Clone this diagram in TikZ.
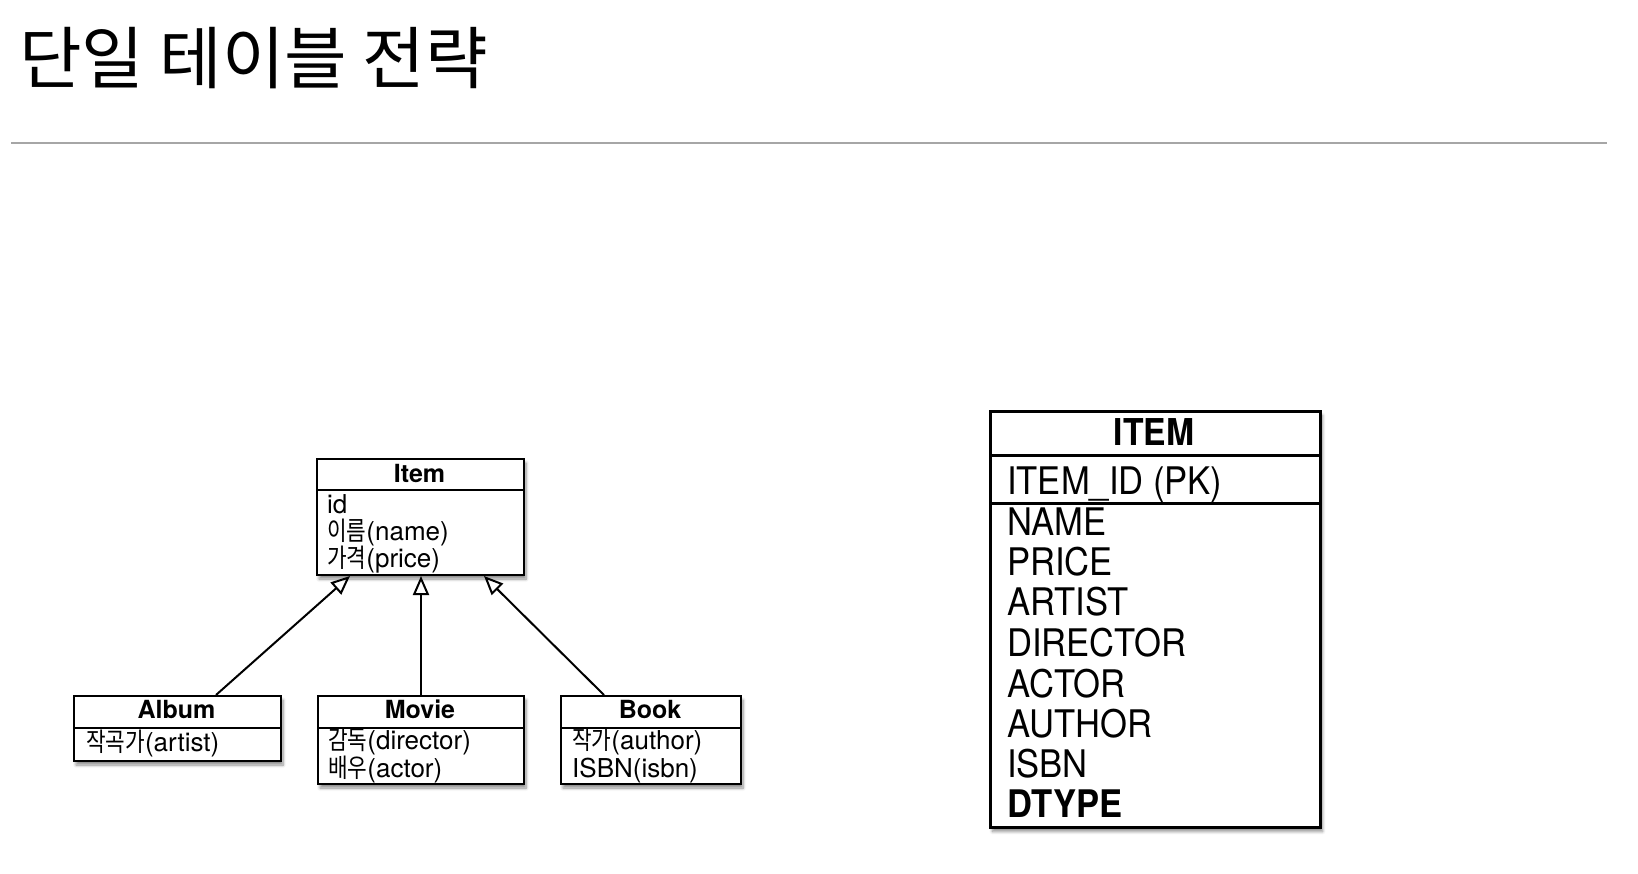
\documentclass[tikz,border=0pt]{standalone}
\usepackage{fontspec}
\setmainfont{TeX Gyre Heros}
\newfontfamily\kr[FakeStretch=0.82]{Noto Sans CJK KR}
\newfontfamily\krtitle{Noto Sans CJK KR}
\newfontfamily\tabf[FakeStretch=0.91]{TeX Gyre Heros}
\usetikzlibrary{arrows.meta,shadows.blur}
\begin{document}
\begin{tikzpicture}[x=1pt,y=-1pt,
  shad/.style={blur shadow={shadow xshift=2pt, shadow yshift=-4pt, shadow blur radius=3pt, shadow blur steps=6, shadow opacity=45}},
  umlbox/.style={draw=black, line width=2pt, fill=white, inner sep=0pt, anchor=north west, shad},
  tabbox/.style={draw=black, line width=3pt, fill=white, inner sep=0pt, anchor=north west, shad},
  hdr/.style={anchor=base, inner sep=0pt, font=\bfseries\fontsize{25}{28}\selectfont},
  attr/.style={anchor=base west, inner sep=0pt, font=\fontsize{26}{28}\selectfont},
  thdr/.style={anchor=base, inner sep=0pt, font=\tabf\bfseries\fontsize{37}{40}\selectfont},
  tcol/.style={anchor=base west, inner sep=0pt, font=\tabf\fontsize{38}{40}\selectfont},
  gen/.style={line width=2pt, -{Triangle[open, length=19pt, width=16pt, line width=2pt]}},
  rule/.style={draw=black!35, line width=1.6pt}
]
\useasboundingbox (0,0) rectangle (1638,874);

% title
\node[anchor=base west, inner sep=0pt, font=\krtitle\fontsize{68}{72}\selectfont] (title) at (19,84) {단일 테이블 전략};
\coordinate (rl) at (11,143);
\coordinate (rr) at (1607,143);
\draw[rule] (rl) -- (rr);

% Item class
\node[umlbox, minimum width=207pt, minimum height=116pt] (item) at (316,458) {};
\draw[line width=2pt] ([yshift=-32pt]item.north west) -- ([yshift=-32pt]item.north east);
\node[hdr] (itemh) at (419.5,482) {Item};
\node[attr] (ia1) at (327,513) {id};
\node[attr] (ia2) at (327,540) {{\kr 이름}(name)};
\node[attr] (ia3) at (327,567) {{\kr 가격}(price)};

% Album
\node[umlbox, minimum width=207pt, minimum height=65pt] (album) at (73,695) {};
\draw[line width=2pt] ([yshift=-33pt]album.north west) -- ([yshift=-33pt]album.north east);
\node[hdr] (albumh) at (176.5,718) {Album};
\node[attr] (aa1) at (86,751) {{\kr 작곡가}(artist)};

% Movie
\node[umlbox, minimum width=206pt, minimum height=88pt] (movie) at (317,695) {};
\draw[line width=2pt] ([yshift=-33pt]movie.north west) -- ([yshift=-33pt]movie.north east);
\node[hdr] (movieh) at (420,718) {Movie};
\node[attr] (ma1) at (328,749) {{\kr 감독}(director)};
\node[attr] (ma2) at (328,777) {{\kr 배우}(actor)};

% Book
\node[umlbox, minimum width=180pt, minimum height=88pt] (book) at (560,695) {};
\draw[line width=2pt] ([yshift=-33pt]book.north west) -- ([yshift=-33pt]book.north east);
\node[hdr] (bookh) at (650,718) {Book};
\node[attr] (ba1) at (572,749) {{\kr 작가}(author)};
\node[attr] (ba2) at (572,777) {ISBN(isbn)};

% generalization arrows
\draw[gen] ([xshift=38.5pt]album.north) -- ([xshift=-70.5pt]item.south);
\draw[gen] (movie.north) -- (movie.north |- item.south);
\draw[gen] ([xshift=-47pt]book.north) -- ([xshift=63.5pt]item.south);

% ITEM table
\node[tabbox, minimum width=330pt, minimum height=416pt] (tab) at (989,410) {};
\draw[line width=3pt] ([yshift=-45pt]tab.north west) -- ([yshift=-45pt]tab.north east);
\draw[line width=3pt] ([yshift=-93pt]tab.north west) -- ([yshift=-93pt]tab.north east);
\node[thdr] (tabh) at (1154,445) {ITEM};
\node[tcol] (pk) at (1007,494) {ITEM\_ID (PK)};
\node[tcol] (c1) at (1007,535) {NAME};
\node[tcol] (c2) at (1007,575) {PRICE};
\node[tcol] (c3) at (1007,615) {ARTIST};
\node[tcol] (c4) at (1007,656) {DIRECTOR};
\node[tcol] (c5) at (1007,697) {ACTOR};
\node[tcol] (c6) at (1007,737) {AUTHOR};
\node[tcol] (c7) at (1007,777) {ISBN};
\node[tcol, font=\tabf\bfseries\fontsize{38}{40}\selectfont] (c8) at (1007,817) {DTYPE};
\end{tikzpicture}
\end{document}
